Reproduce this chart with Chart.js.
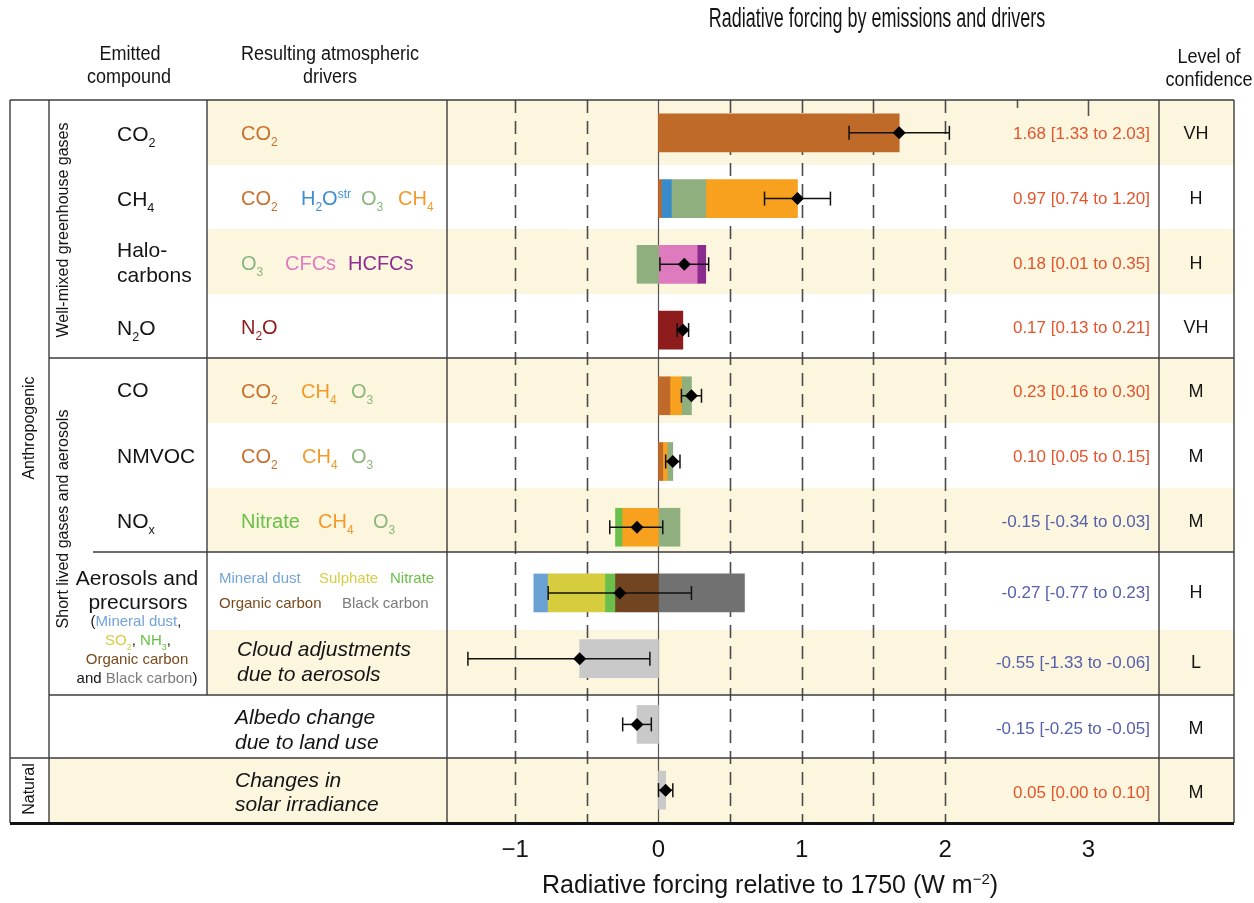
<!DOCTYPE html>
<html>
<head>
<meta charset="utf-8">
<title>Radiative forcing by emissions and drivers</title>
<script src="https://cdn.jsdelivr.net/npm/chart.js@4.4.0/dist/chart.umd.min.js"></script>
<style>
  html, body { margin: 0; padding: 0; background: #ffffff; }
  #wrap { width: 1254px; height: 903px; position: relative; }
</style>
</head>
<body>
<div id="wrap"><canvas id="rf" width="1254" height="903"></canvas></div>
<script>
// ---- Data -------------------------------------------------------------
// Emission rows, top to bottom
const categories = ['CO2', 'CH4', 'Halocarbons', 'N2O', 'CO', 'NMVOC', 'NOx',
  'Aerosols and precursors', 'Cloud adjustments', 'Albedo change', 'Solar irradiance'];

// Best estimate and 5-95% range (W m-2)
const netForcing = [1.68, 0.97, 0.18, 0.17, 0.23, 0.10, -0.15, -0.27, -0.55, -0.15, 0.05];
const lowerBound = [1.33, 0.74, 0.01, 0.13, 0.16, 0.05, -0.34, -0.77, -1.33, -0.25, 0.00];
const upperBound = [2.03, 1.20, 0.35, 0.21, 0.30, 0.15, 0.03, 0.23, -0.06, -0.05, 0.10];
const confidence = ['VH', 'H', 'H', 'VH', 'M', 'M', 'M', 'H', 'L', 'M', 'M'];

// Contributions of each resulting driver, listed outward from zero
const partsCO2 = [['co2', 1.68]];
const partsCH4 = [['co2', 0.02], ['h2o', 0.07], ['o3', 0.24], ['ch4', 0.64]];
const partsHalo = [['o3', -0.15], ['cfc', 0.27], ['hcfc', 0.06]];
const partsN2O = [['n2o', 0.17]];
const partsCO = [['co2', 0.08], ['ch4', 0.08], ['o3', 0.07]];
const partsNMVOC = [['co2', 0.03], ['ch4', 0.03], ['o3', 0.04]];
const partsNOx = [['ch4', -0.25], ['nitrate', -0.05], ['o3', 0.15]];
const partsAerosol = [['oc', -0.30], ['nitrate', -0.07], ['sulphate', -0.40], ['dust', -0.10], ['bc', 0.60]];
const partsCloud = [['other', -0.55]];
const partsAlbedo = [['other', -0.15]];
const partsSolar = [['other', 0.05]];
const rowParts = [partsCO2, partsCH4, partsHalo, partsN2O, partsCO, partsNMVOC, partsNOx,
  partsAerosol, partsCloud, partsAlbedo, partsSolar];

// Axis
const axisTicks = [-1, 0, 1, 2, 3];
const dashedGrid = [-1, -0.5, 0.5, 1, 1.5, 2];

// ---- Styles -----------------------------------------------------------
const FONT = '"Liberation Sans", Arial, Helvetica, sans-serif';
const barColour = {
  co2: '#bf6a28', h2o: '#3a8bc9', o3: '#8fb07e', ch4: '#f7a11e', cfc: '#de7bbf',
  hcfc: '#8b2b8f', n2o: '#8e1c1c', nitrate: '#6bc04b', dust: '#6ba0d3',
  sulphate: '#d5cc3e', oc: '#714521', bc: '#717171', other: '#c9c9c9'
};
const txt = {
  co2: '#c9702f', h2o: '#3f8fd0', o3: '#8db67f', ch4: '#f39a2a', cfc: '#e07cc0',
  hcfc: '#8c2f91', n2o: '#8e1c1c', nitrate: '#69c046', dust: '#73a3d8',
  sulphate: '#d6cd45', oc: '#7a4b1d', bc: '#7b7b7b', ink: '#141414',
  pos: '#e2552d', neg: '#5660ab'
};
const BAND = '#fcf6df';
const RULE = '#3c3c3c';

// Table geometry
const G = { outerL: 10, col2: 49, col3: 207, plotL: 447, plotR: 1159, outerR: 1234, top: 100, bottom: 823 };
const bandEdges = [100, 165, 229, 294, 358, 423, 488, 552, 630, 695, 758, 823];
const rowCentres = [133, 198, 263, 327, 391, 456, 521, 592, 662, 728, 792];

// ---- Text helpers -----------------------------------------------------
// segments: [text, colour, 'sub' | 'sup' | undefined]
function rich(ctx, x, y, segs, size, opt = {}) {
  const style = opt.italic ? 'italic ' : '';
  const pieces = segs.map(([t, c, k]) => {
    const s = k ? size * 0.6 : size;
    ctx.font = `${style}${s}px ${FONT}`;
    return { t, c, k, s, w: ctx.measureText(t).width };
  });
  const total = pieces.reduce((a, p) => a + p.w, 0);
  let cx = opt.align === 'center' ? x - total / 2 : opt.align === 'right' ? x - total : x;
  const base = y + size * 0.36;
  ctx.textAlign = 'left';
  ctx.textBaseline = 'alphabetic';
  for (const p of pieces) {
    ctx.font = `${style}${p.s}px ${FONT}`;
    ctx.fillStyle = p.c;
    const dy = p.k === 'sub' ? size * 0.3 : p.k === 'sup' ? -size * 0.36 : 0;
    ctx.fillText(p.t, cx, base + dy);
    cx += p.w;
  }
}

function narrow(ctx, text, x, y, size, sx, colour) {
  ctx.save();
  ctx.font = `${size}px ${FONT}`;
  ctx.fillStyle = colour || txt.ink;
  ctx.textAlign = 'center';
  ctx.textBaseline = 'middle';
  ctx.translate(x, y);
  ctx.scale(sx, 1);
  ctx.fillText(text, 0, 0);
  ctx.restore();
}

function line(ctx, x1, y1, x2, y2) {
  ctx.beginPath();
  ctx.moveTo(x1, y1);
  ctx.lineTo(x2, y2);
  ctx.stroke();
}

const fmt = v => v.toFixed(2);

// ---- Table, bands, grid and labels ------------------------------------
const tablePlugin = {
  id: 'forcingTable',
  beforeDraw(chart) {
    const ctx = chart.ctx;
    ctx.save();
    ctx.fillStyle = '#ffffff';
    ctx.fillRect(0, 0, chart.width, chart.height);
    ctx.fillStyle = BAND;
    for (let r = 0; r < 11; r += 2) {
      const x0 = r === 10 ? G.col2 : G.col3;
      ctx.fillRect(x0, bandEdges[r], G.outerR - x0, bandEdges[r + 1] - bandEdges[r]);
    }
    ctx.restore();
  },
  beforeDatasetsDraw(chart) {
    const ctx = chart.ctx;
    const xs = chart.scales.x;
    ctx.save();
    ctx.strokeStyle = '#4a4a4a';
    ctx.lineWidth = 1.6;
    ctx.setLineDash([13, 8]);
    for (const v of dashedGrid) {
      const px = Math.round(xs.getPixelForValue(v)) + 0.5;
      line(ctx, px, G.top, px, G.bottom);
    }
    ctx.setLineDash([]);
    ctx.lineWidth = 1.2;
    ctx.strokeStyle = '#555555';
    const z = Math.round(xs.getPixelForValue(0)) + 0.5;
    line(ctx, z, G.top, z, G.bottom);
    // short ticks along the top edge
    ctx.lineWidth = 1.6;
    const t25 = Math.round(xs.getPixelForValue(2.5)) + 0.5;
    const t3 = Math.round(xs.getPixelForValue(3)) + 0.5;
    line(ctx, t25, G.top, t25, G.top + 8);
    line(ctx, t3, G.top, t3, G.top + 16);
    ctx.restore();
  },
  beforeDatasetDraw(chart, args) {
    if (args.meta.type !== 'line') return;
    const ctx = chart.ctx;
    const xs = chart.scales.x, ys = chart.scales.y;
    ctx.save();
    ctx.strokeStyle = '#111111';
    ctx.lineWidth = 1.5;
    netForcing.forEach((_, i) => {
      const y = ys.getPixelForValue(i);
      const a = xs.getPixelForValue(lowerBound[i]);
      const b = xs.getPixelForValue(upperBound[i]);
      line(ctx, a, y, b, y);
      line(ctx, a, y - 7, a, y + 7);
      line(ctx, b, y - 7, b, y + 7);
    });
    ctx.restore();
  },
  afterDraw(chart) {
    const ctx = chart.ctx;
    ctx.save();

    // rules
    ctx.strokeStyle = RULE;
    ctx.lineWidth = 1.4;
    line(ctx, G.outerL, G.top, G.outerR, G.top);
    line(ctx, G.col2, 358, G.outerR, 358);
    line(ctx, 93, 552, G.outerR, 552);
    line(ctx, G.col2, 695, G.outerR, 695);
    line(ctx, G.outerL, 758, G.outerR, 758);
    line(ctx, G.outerL, G.top, G.outerL, G.bottom);
    line(ctx, G.col2, G.top, G.col2, G.bottom);
    line(ctx, G.col3, G.top, G.col3, 695);
    line(ctx, G.plotL, G.top, G.plotL, G.bottom);
    line(ctx, G.plotR, G.top, G.plotR, G.bottom);
    line(ctx, G.outerR, G.top, G.outerR, G.bottom);
    ctx.strokeStyle = '#111111';
    ctx.lineWidth = 3.2;
    line(ctx, G.outerL, G.bottom + 0.5, G.outerR, G.bottom + 0.5);

    // title and column headings
    narrow(ctx, 'Radiative forcing by emissions and drivers', 877, 20, 27, 0.665);
    narrow(ctx, 'Emitted', 130, 54, 20, 0.9);
    narrow(ctx, 'compound', 129, 77, 20, 0.9);
    narrow(ctx, 'Resulting atmospheric', 330, 54, 20, 0.9);
    narrow(ctx, 'drivers', 330, 77, 20, 0.9);
    narrow(ctx, 'Level of', 1209, 57, 20, 0.9);
    narrow(ctx, 'confidence', 1209, 80, 20, 0.9);

    // rotated group labels
    const vert = (text, x, y, size) => {
      ctx.save();
      ctx.translate(x, y);
      ctx.rotate(-Math.PI / 2);
      ctx.font = `${size}px ${FONT}`;
      ctx.fillStyle = txt.ink;
      ctx.textAlign = 'center';
      ctx.textBaseline = 'middle';
      ctx.fillText(text, 0, 0);
      ctx.restore();
    };
    vert('Anthropogenic', 30, 428, 16);
    vert('Natural', 30, 789, 16);
    vert('Well-mixed greenhouse gases', 64, 230, 16);
    vert('Short lived gases and aerosols', 64, 519, 16);

    // emitted compounds
    const K = txt.ink, EX = 117, ES = 21;
    const R = rowCentres;
    rich(ctx, EX, R[0], [['CO', K], ['2', K, 'sub']], ES);
    rich(ctx, EX, R[1], [['CH', K], ['4', K, 'sub']], ES);
    rich(ctx, EX, R[2] - 14, [['Halo-', K]], ES);
    rich(ctx, EX, R[2] + 11, [['carbons', K]], ES);
    rich(ctx, EX, R[3], [['N', K], ['2', K, 'sub'], ['O', K]], ES);
    rich(ctx, EX, R[4] - 2, [['CO', K]], ES);
    rich(ctx, EX, R[5] - 1, [['NMVOC', K]], ES);
    rich(ctx, EX, R[6] - 1, [['NO', K], ['x', K, 'sub']], ES);
    rich(ctx, 137, 577, [['Aerosols and', K]], 21, { align: 'center' });
    rich(ctx, 138, 601, [['precursors', K]], 21, { align: 'center' });
    rich(ctx, 136, 621, [['(', K], ['Mineral dust', txt.dust], [',', K]], 15, { align: 'center' });
    rich(ctx, 138, 640, [['SO', txt.sulphate], ['2', txt.sulphate, 'sub'], [', ', K],
      ['NH', txt.nitrate], ['3', txt.nitrate, 'sub'], [',', K]], 15, { align: 'center' });
    rich(ctx, 137, 659, [['Organic carbon', txt.oc]], 15, { align: 'center' });
    rich(ctx, 137, 678, [['and ', K], ['Black carbon', txt.bc], [')', K]], 15, { align: 'center' });

    // resulting atmospheric drivers
    const DS = 20;
    const co2 = [['CO', txt.co2], ['2', txt.co2, 'sub']];
    const ch4 = [['CH', txt.ch4], ['4', txt.ch4, 'sub']];
    const o3 = [['O', txt.o3], ['3', txt.o3, 'sub']];
    rich(ctx, 241, R[0], co2, DS);
    rich(ctx, 241, R[1], co2, DS);
    rich(ctx, 301, R[1], [['H', txt.h2o], ['2', txt.h2o, 'sub'], ['O', txt.h2o], ['str', txt.h2o, 'sup']], DS);
    rich(ctx, 361, R[1], o3, DS);
    rich(ctx, 398, R[1], ch4, DS);
    rich(ctx, 241, R[2], o3, DS);
    rich(ctx, 285, R[2], [['CFCs', txt.cfc]], DS);
    rich(ctx, 348, R[2], [['HCFCs', txt.hcfc]], DS);
    rich(ctx, 241, R[3], [['N', txt.n2o], ['2', txt.n2o, 'sub'], ['O', txt.n2o]], DS);
    rich(ctx, 241, R[4], co2, DS);
    rich(ctx, 301, R[4], ch4, DS);
    rich(ctx, 351, R[4], o3, DS);
    rich(ctx, 241, R[5], co2, DS);
    rich(ctx, 302, R[5], ch4, DS);
    rich(ctx, 351, R[5], o3, DS);
    rich(ctx, 241, R[6], [['Nitrate', txt.nitrate]], DS);
    rich(ctx, 318, R[6], ch4, DS);
    rich(ctx, 373, R[6], o3, DS);
    rich(ctx, 219, 578, [['Mineral dust', txt.dust]], 15);
    rich(ctx, 319, 578, [['Sulphate', txt.sulphate]], 15);
    rich(ctx, 390, 578, [['Nitrate', txt.nitrate]], 15);
    rich(ctx, 219, 603, [['Organic carbon', txt.oc]], 15);
    rich(ctx, 342, 603, [['Black carbon', txt.bc]], 15);
    const IT = { italic: true };
    rich(ctx, 237, 648, [['Cloud adjustments', K]], 21, IT);
    rich(ctx, 237, 673, [['due to aerosols', K]], 21, IT);
    rich(ctx, 235, 716, [['Albedo change', K]], 21, IT);
    rich(ctx, 235, 741, [['due to land use', K]], 21, IT);
    rich(ctx, 235, 779, [['Changes in', K]], 21, IT);
    rich(ctx, 235, 803, [['solar irradiance', K]], 21, IT);

    // best estimates, ranges and confidence
    netForcing.forEach((v, i) => {
      const label = `${fmt(v)} [${fmt(lowerBound[i])} to ${fmt(upperBound[i])}]`;
      rich(ctx, 1150, R[i], [[label, v > 0 ? txt.pos : txt.neg]], 17, { align: 'right' });
      rich(ctx, 1196, R[i], [[confidence[i], K]], 18, { align: 'center' });
    });

    // axis title
    rich(ctx, 770, 884, [['Radiative forcing relative to 1750 (W m', K], ['\u22122', K, 'sup'], [')', K]], 25, { align: 'center' });

    ctx.restore();
  }
};

// ---- Chart ------------------------------------------------------------
const datasets = [];
rowParts.forEach((parts, row) => {
  parts.forEach(([key, value]) => {
    datasets.push({
      type: 'bar',
      label: key,
      data: categories.map((_, i) => (i === row ? value : null)),
      backgroundColor: barColour[key],
      borderWidth: 0,
      stack: 'forcing',
      barThickness: 38,
      order: 1
    });
  });
});
datasets.push({
  type: 'line',
  label: 'best estimate',
  indexAxis: 'y',
  stack: 'estimate',
  data: netForcing,
  showLine: false,
  pointStyle: 'rectRot',
  pointRadius: 6.5,
  pointHoverRadius: 6.5,
  pointBackgroundColor: '#000000',
  pointBorderColor: '#000000',
  pointBorderWidth: 0,
  order: 0
});

Chart.defaults.font.family = FONT;

new Chart(document.getElementById('rf'), {
  type: 'bar',
  data: { labels: categories, datasets },
  options: {
    indexAxis: 'y',
    responsive: false,
    animation: false,
    devicePixelRatio: 1,
    layout: { padding: { left: G.plotL, right: 1254 - G.plotR, top: G.top, bottom: 0 } },
    plugins: { legend: { display: false }, tooltip: { enabled: false } },
    scales: {
      x: {
        type: 'linear',
        min: -1.476,
        max: 3.493,
        stacked: true,
        grid: { display: false, drawTicks: false },
        border: { display: false },
        afterBuildTicks: s => { s.ticks = axisTicks.map(v => ({ value: v })); },
        afterFit: s => { s.height = 903 - G.bottom; },
        ticks: {
          autoSkip: false,
          maxRotation: 0,
          padding: 13,
          color: '#141414',
          font: { family: FONT, size: 24 },
          callback: v => (v < 0 ? '\u2212' + Math.abs(v) : String(v))
        }
      },
      y: { type: 'category', stacked: true, display: false, offset: true }
    }
  },
  plugins: [tablePlugin]
});
</script>
</body>
</html>
